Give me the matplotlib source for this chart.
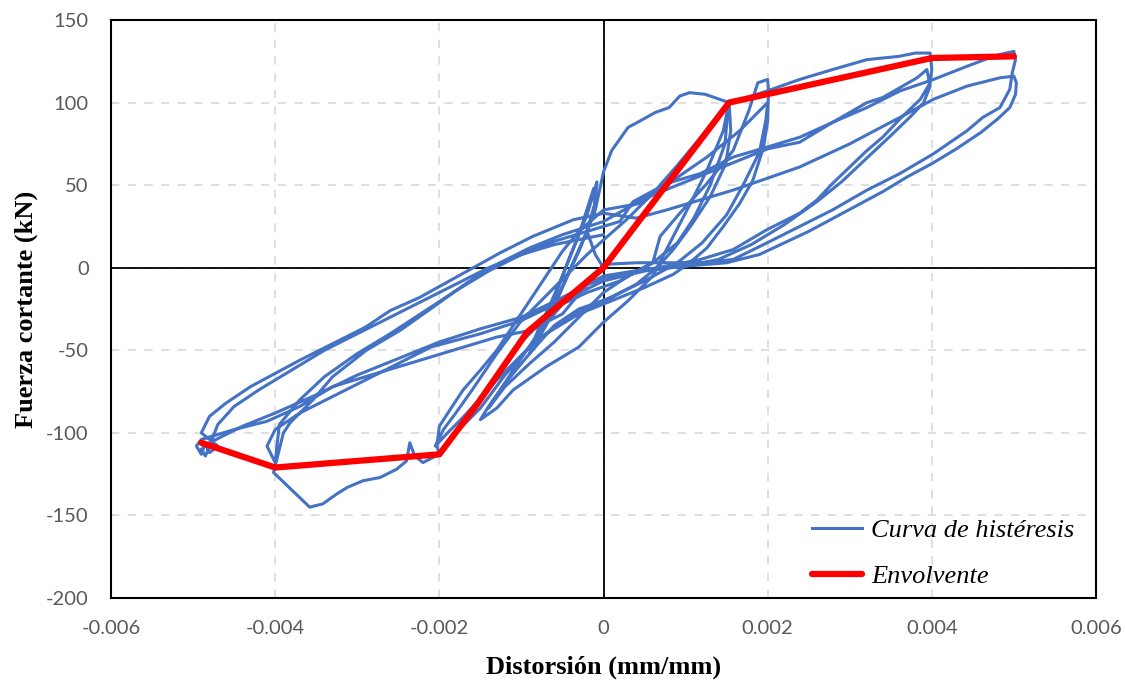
"""Hysteresis curve and envelope: shear force vs drift."""

import matplotlib
matplotlib.use("Agg")
import matplotlib.pyplot as plt
from matplotlib.ticker import FuncFormatter

# ---- envelope (red) -------------------------------------------------------
env_drift = [-0.0049, -0.0040, -0.0020, -0.00153, -0.00093, 0.0, 0.00153, 0.0040, 0.0050]
env_force = [-106, -121, -113, -82, -39, 0, 100, 127, 128]

# ---- hysteresis curve (blue), cycle by cycle ------------------------------
# small cycles near the origin
c1_drift = [0.0, -0.0001, -0.0002, -0.0001, -0.00008, -0.0002, -0.0004, -0.0006, -0.0008,
            -0.0009, -0.0008, -0.0006, -0.0004, -0.0002, -0.0001, -0.00012, -0.0003,
            -0.0005, -0.0007, -0.00085, -0.0007, -0.0005, -0.0003]
c1_force = [0, 8, 22, 40, 52, 32, 8, -18, -38, -52, -42, -22, 0, 22, 38, 48, 20, -5, -28,
            -48, -35, -12, 10]

# first cycle to 0.0015
c2_drift = [-0.0001, 0.0, 0.0001, 0.0003, 0.00045, 0.00063, 0.0008, 0.00093, 0.00105,
            0.00124, 0.00153, 0.00155, 0.00149, 0.0013, 0.00106, 0.00085, 0.00065, 0.0004,
            0.0001, -0.0003, -0.0006, -0.0009, -0.0012, -0.0014, -0.0015, -0.0013, -0.0011,
            -0.0007, -0.0003, 0.0, 0.0003, 0.0006]
c2_force = [35, 58, 71, 85, 89, 94, 97, 104, 106, 105, 100, 83, 63, 43, 25, 11, 0, -10, -18,
            -25, -35, -52, -70, -84, -92, -85, -74, -60, -48, -33, -20, -5]

# second cycle to 0.0015
c3_drift = [0.00085, 0.00106, 0.00126, 0.00146, 0.00152, 0.00148, 0.0013, 0.0011, 0.0009,
            0.0006, 0.0002, -0.0002, -0.0005, -0.0008, -0.0011, -0.0014, -0.0012, -0.0009,
            -0.0006, -0.0003, 0.0, 0.0003, 0.0006]
c3_force = [19, 39, 59, 83, 98, 75, 50, 30, 15, 3, -8, -15, -22, -40, -62, -85, -72, -58,
            -45, -30, -15, -5, 3]

# first cycle to 0.002
c4_drift = [0.00069, 0.00093, 0.00126, 0.00158, 0.00177, 0.00188, 0.0020, 0.00201, 0.0020,
            0.00195, 0.00182, 0.00166, 0.00146, 0.00126, 0.00105, 0.00085, 0.0005, 0.0001,
            -0.0003, -0.0007, -0.0009, -0.0012, -0.0015, -0.0018, -0.0020, -0.00203,
            -0.0020, -0.00187, -0.00171, -0.0015, -0.0013, -0.0011, -0.0009, -0.0007,
            -0.0005, -0.0003, 0.0]
c4_force = [19, 33, 51, 71, 95, 112, 114, 107, 89, 73, 53, 39, 25, 12, 3, -4, -12, -20, -28,
            -40, -48, -65, -85, -100, -113, -108, -96, -86, -74, -62, -50, -35, -20, -5,
            10, 22, 35]

# second cycle to 0.002
c5_drift = [0.00045, 0.00085, 0.00126, 0.00166, 0.0020, 0.00198, 0.0019, 0.0017, 0.0015,
            0.0012, 0.0009, 0.0005, 0.0, -0.0005, -0.0009, -0.0013, -0.0017, -0.0019,
            -0.00205, -0.00195, -0.0018, -0.0016, -0.0013, -0.001, -0.0006, -0.0002, 0.0003,
            0.0006, 0.0009, 0.0012, 0.0015]
c5_force = [39, 53, 67, 83, 100, 90, 70, 50, 32, 15, 3, -8, -20, -32, -48, -68, -90, -100,
            -108, -98, -88, -74, -52, -32, -12, 8, 30, 45, 62, 80, 99]

# first cycle to 0.004 (and first excursion past -0.002)
c6_drift = [0.00199, 0.00239, 0.00279, 0.00321, 0.0034, 0.0036, 0.0038, 0.00398, 0.0040,
            0.00398, 0.00386, 0.00361, 0.0034, 0.00321, 0.0030, 0.00279, 0.0026, 0.00239,
            0.00199, 0.00158, 0.00118, 0.00077, 0.0003, -0.0002, -0.0006, -0.001, -0.0013,
            -0.0016, -0.0019, -0.0020, -0.0022, -0.0023, -0.00236, -0.0024, -0.00252,
            -0.00272, -0.00293, -0.00312, -0.00325, -0.00342, -0.00358, -0.00402, -0.00398,
            -0.00394, -0.0039, -0.00382, -0.00366, -0.00354, -0.0033, -0.00289, -0.00248,
            -0.00208, -0.00166, -0.00126, -0.0009, -0.0005, 0.0]
c6_force = [107, 114, 120, 126, 127, 128, 130, 130, 120, 112, 102, 90, 79, 71, 61, 51, 41,
            33, 23, 11, 5, 1, -3, -10, -25, -45, -65, -88, -106, -113, -118, -114, -106,
            -117, -122, -127, -129, -133, -137, -143, -145, -124, -116, -108, -100, -94,
            -86, -80, -66, -50, -38, -24, -9, 3, 12, 20, 28]

# second cycle to 0.004
c7_drift = [0.0005, 0.001, 0.0015, 0.002, 0.00239, 0.00279, 0.00321, 0.0034, 0.00361,
            0.00382, 0.00394, 0.00398, 0.0039, 0.00375, 0.0035, 0.0032, 0.0029, 0.0026,
            0.0022, 0.0018, 0.0014, 0.001, 0.0005, 0.0, -0.0005, -0.001, -0.0015, -0.0021,
            -0.0027, -0.0033, -0.0037, -0.0040, -0.0041, -0.0040, -0.00395, -0.0037,
            -0.0034, -0.0030, -0.0026, -0.0022, -0.0018, -0.0014, -0.001, -0.0006, -0.0002,
            0.0002]
c7_force = [42, 52, 62, 72, 76, 88, 100, 103, 109, 115, 120, 110, 100, 92, 80, 66, 52, 40,
            26, 14, 5, 1, -2, -8, -20, -32, -40, -48, -63, -78, -88, -98, -108, -118, -95,
            -80, -66, -52, -40, -27, -14, -2, 8, 16, 22, 28]

# first cycle to 0.005
c8_drift = [0.00036, 0.00077, 0.00118, 0.00158, 0.00199, 0.00239, 0.00279, 0.00321,
            0.00361, 0.00402, 0.00443, 0.00475, 0.0049, 0.0050, 0.00502, 0.00498, 0.00495,
            0.00483, 0.00462, 0.00443, 0.00402, 0.00361, 0.00321, 0.00279, 0.00239, 0.00199,
            0.00158, 0.0012, 0.0008, 0.0004, 0.0, -0.0005, -0.0009, -0.0013, -0.0017,
            -0.0021, -0.0025, -0.0029, -0.0033, -0.0037, -0.0041, -0.0045, -0.0049, -0.00496,
            -0.0049, -0.00485, -0.0048, -0.0047, -0.0049, -0.0048, -0.0046, -0.0043, -0.0040,
            -0.0037, -0.0033, -0.0029, -0.0026, -0.00224, -0.00166, -0.00126, -0.00086,
            -0.00037, 0.0]
c8_force = [40, 51, 57, 67, 73, 79, 88, 97, 107, 114, 122, 128, 130, 131, 126, 118, 108, 97,
            91, 83, 69, 57, 47, 35, 25, 15, 5, 3, 3, 3, 2, -28, -38, -42, -48, -54, -60,
            -66, -72, -84, -93, -98, -104, -108, -113, -106, -112, -108, -100, -90, -82,
            -72, -64, -56, -46, -36, -26, -18, -2, 9, 19, 29, 33]

# second cycle to 0.005
c9_drift = [0.0004, 0.00077, 0.00158, 0.00239, 0.0030, 0.00361, 0.00402, 0.00443, 0.00483,
            0.0050, 0.00503, 0.00502, 0.00495, 0.0048, 0.0046, 0.0043, 0.0040, 0.0037,
            0.0034, 0.0031, 0.0028, 0.0025, 0.0022, 0.0019, 0.0015, 0.001, 0.0005, 0.0,
            -0.0005, -0.001, -0.0015, -0.002, -0.0025, -0.003, -0.0035, -0.004, -0.0044,
            -0.0048, -0.0049, -0.00485, -0.0048, -0.0047, -0.0045, -0.0042, -0.0038,
            -0.0034, -0.003, -0.0026, -0.0022, -0.0018, -0.0014, -0.001, -0.0006, -0.0002,
            0.0]
c9_force = [30, 35, 47, 61, 75, 91, 102, 110, 115, 116, 112, 105, 97, 90, 82, 72, 63, 55, 46,
            38, 30, 22, 15, 8, 3, 1, -1, -5, -18, -30, -37, -45, -55, -65, -77, -88, -96,
            -106, -110, -114, -108, -95, -84, -74, -62, -50, -40, -30, -20, -10, 0, 8, 14,
            18, 20]

cycles_drift = [c1_drift, c2_drift, c3_drift, c4_drift, c5_drift, c6_drift, c7_drift,
                c8_drift, c9_drift]
cycles_force = [c1_force, c2_force, c3_force, c4_force, c5_force, c6_force, c7_force,
                c8_force, c9_force]

hyst_drift = [v for c in cycles_drift for v in c]
hyst_force = [v for c in cycles_force for v in c]

x_ticks = [-0.006, -0.004, -0.002, 0.0, 0.002, 0.004, 0.006]
y_ticks = [-200, -150, -100, -50, 0, 50, 100, 150]

# ---- figure ---------------------------------------------------------------
plt.rcParams["font.family"] = ["Lato", "DejaVu Sans"]

fig = plt.figure(figsize=(11.25, 6.81), dpi=100)
ax = fig.add_axes([0.0987, 0.1219, 0.8755, 0.8487])

ax.plot(hyst_drift, hyst_force, color="#4472C4", lw=2.2, solid_joinstyle="round",
        label="Curva de histéresis", zorder=3)
ax.plot(env_drift, env_force, color="#FF0000", lw=4.5, solid_capstyle="round",
        solid_joinstyle="round", label="Envolvente", zorder=4)

ax.axhline(0, color="black", lw=1.3, zorder=2)
ax.axvline(0, color="black", lw=1.3, zorder=2)

ax.set_xlim(-0.006, 0.006)
ax.set_ylim(-200, 150)
ax.set_xticks(x_ticks)
ax.set_yticks(y_ticks)
ax.xaxis.set_major_formatter(FuncFormatter(lambda v, p: "0" if abs(v) < 1e-12 else f"{v:.3f}"))
ax.yaxis.set_major_formatter(FuncFormatter(lambda v, p: f"{v:.0f}"))
ax.tick_params(length=0, labelsize=14.5, labelcolor="#595959", pad=16)

ax.grid(True, color="#d9d9d9", lw=1.2, linestyle=(0, (5, 5)), zorder=0)
for s in ax.spines.values():
    s.set_color("black")
    s.set_linewidth(1.5)

serif = ["Liberation Serif", "DejaVu Serif"]
ax.set_xlabel("Distorsión (mm/mm)", fontsize=19, fontweight="bold", family=serif, labelpad=13)
ax.set_ylabel("Fuerza cortante (kN)", fontsize=19, fontweight="bold", family=serif, labelpad=6)

leg = ax.legend(loc="lower right", bbox_to_anchor=(0.997, -0.015), frameon=False,
                prop={"family": serif, "style": "italic", "size": 19},
                handlelength=1.9, handletextpad=0.35, labelspacing=0.85, borderaxespad=0.3)

fig.savefig("out.png", dpi=100)
